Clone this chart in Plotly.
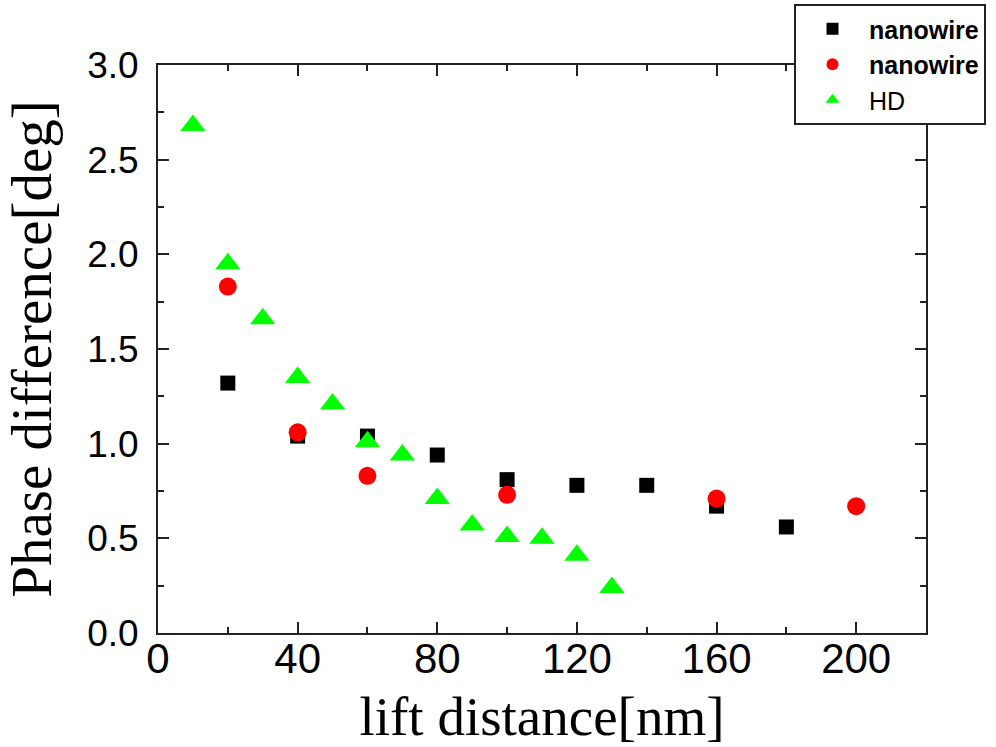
import plotly.graph_objects as go

# Data
sq_x = [20, 40, 60, 80, 100, 120, 140, 160, 180]
sq_y = [1.32, 1.04, 1.04, 0.94, 0.81, 0.78, 0.78, 0.67, 0.56]

ci_x = [20, 40, 60, 100, 160, 200]
ci_y = [1.83, 1.06, 0.83, 0.73, 0.71, 0.67]

tr_x = [10, 20, 30, 40, 50, 60, 70, 80, 90, 100, 110, 120, 130]
tr_y = [2.68, 1.95, 1.66, 1.35, 1.21, 1.01, 0.94, 0.71, 0.57, 0.51, 0.50, 0.41, 0.24]

x_ticks = [0, 40, 80, 120, 160, 200]
y_ticks = [0.0, 0.5, 1.0, 1.5, 2.0, 2.5, 3.0]

SANS = "Liberation Sans, Arial, sans-serif"
SERIF = "Liberation Serif, Times New Roman, serif"

fig = go.Figure()
fig.add_trace(go.Scatter(x=sq_x, y=sq_y, mode="markers", name="<b>nanowire</b>",
                         marker=dict(symbol="square", size=15, color="black")))
fig.add_trace(go.Scatter(x=ci_x, y=ci_y, mode="markers", name="<b>nanowire</b>",
                         marker=dict(symbol="circle", size=18, color="red")))
fig.add_trace(go.Scatter(x=tr_x, y=tr_y, mode="markers", name="HD",
                         marker=dict(symbol="triangle-up", size=22, color="#00ff00")))

axis_common = dict(
    showline=True, linecolor="#222222", linewidth=2, mirror="allticks",
    ticks="inside", ticklen=11, tickwidth=2, tickcolor="#222222",
    showgrid=False, zeroline=False,
)

fig.update_xaxes(
    range=[0, 220], tickvals=x_ticks, ticktext=[str(v) for v in x_ticks],
    tickfont=dict(family=SANS, size=42, color="black"),
    minor=dict(ticks="inside", ticklen=6, tickwidth=2, tickcolor="#222222", dtick=20, tick0=0),
    title=dict(text="lift distance[nm]", font=dict(family=SERIF, size=55, color="black"), standoff=29),
    ticklabelstandoff=-12,
    **axis_common,
)
fig.update_yaxes(
    range=[0, 3.0], tickvals=y_ticks, ticktext=[f"{v:.1f}" for v in y_ticks],
    tickfont=dict(family=SANS, size=37, color="black"),
    minor=dict(ticks="inside", ticklen=6, tickwidth=2, tickcolor="#222222", dtick=0.25, tick0=0),
    title=dict(text="Phase difference[deg]", font=dict(family=SERIF, size=57, color="black"), standoff=18),
    ticklabelstandoff=10,
    **axis_common,
)

fig.update_layout(
    width=996, height=747,
    margin=dict(l=158, r=70, t=65, b=114, autoexpand=False),
    paper_bgcolor="white", plot_bgcolor="white",
    showlegend=True,
    legend=dict(
        xref="container", yref="container",
        x=794/996, y=1 - 4/747, xanchor="left", yanchor="top",
        bgcolor="white", bordercolor="#222222", borderwidth=2,
        font=dict(family=SANS, size=25, color="black"),
        itemsizing="constant", itemwidth=63,
    ),
)

fig.write_html("out.html")
